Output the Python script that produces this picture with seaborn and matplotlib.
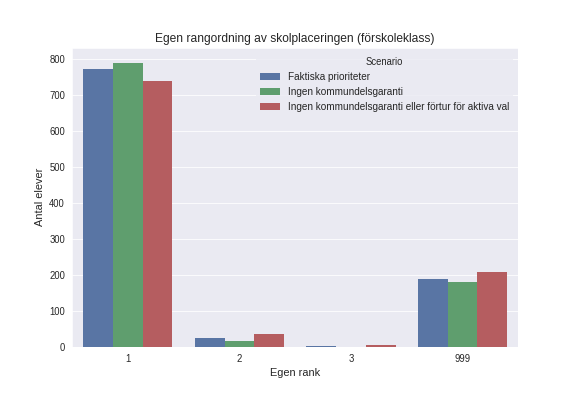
import pandas as pd
import matplotlib
matplotlib.use('Agg')
import matplotlib.pyplot as plt
import seaborn as sns

# Values
ranks = ['1', '2', '3', '999']
scenarios = ['Faktiska prioriteter',
             'Ingen kommundelsgaranti',
             'Ingen kommundelsgaranti eller förtur för aktiva val']
faktiska = [774, 25, 2, 189]
ingen_garanti = [791, 17, 0, 181]
ingen_fortur = [741, 36, 4, 209]

df = pd.DataFrame({
    'Egen rank': ranks * 3,
    'Scenario': [scenarios[0]] * 4 + [scenarios[1]] * 4 + [scenarios[2]] * 4,
    'Antal elever': faktiska + ingen_garanti + ingen_fortur,
})

sns.set_style('darkgrid')
plt.rcParams['font.family'] = ['Liberation Sans', 'DejaVu Sans']

fig, ax = plt.subplots(figsize=(8, 5.5), dpi=72)
fig.subplots_adjust(left=0.125, right=0.9, top=0.88, bottom=0.124)
sns.barplot(data=df, x='Egen rank', y='Antal elever', hue='Scenario',
            palette=['#4C72B0', '#55A868', '#C44E52'], linewidth=0, ax=ax)
ax.set_title('Egen rangordning av skolplaceringen (förskoleklass)', fontsize=12)
ax.set_xlabel('Egen rank', fontsize=11)
ax.set_ylabel('Antal elever', fontsize=11)
ax.tick_params(labelsize=9.5)
ax.set_ylim(0, 833)
leg = ax.legend(title='Scenario', loc='upper right', fontsize=10, title_fontsize=9.5,
                frameon=True, facecolor='#EAEAF2', edgecolor='none')
fig.savefig('out.png', dpi=72)
